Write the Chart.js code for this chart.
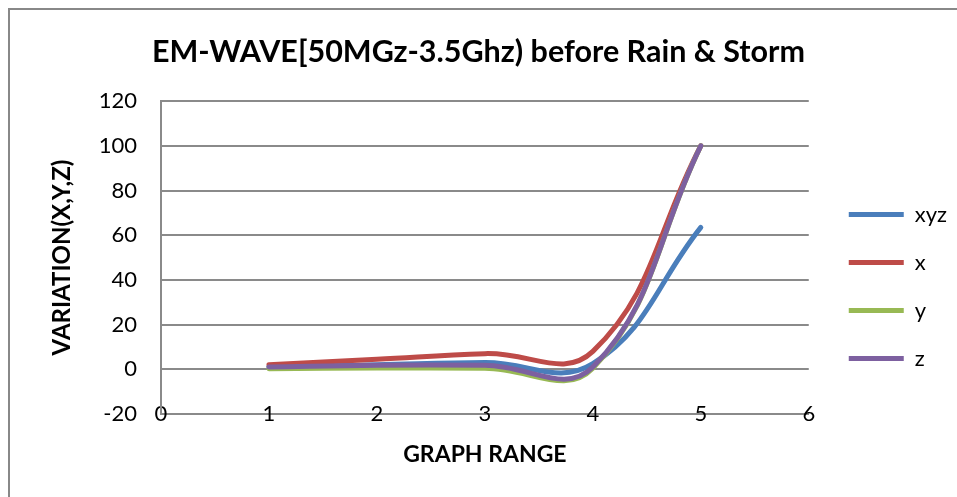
<!DOCTYPE html>
<html>
<head>
<meta charset="utf-8">
<title>EM-WAVE before Rain &amp; Storm</title>
<script src="https://cdn.jsdelivr.net/npm/chart.js@4.4.0/dist/chart.umd.min.js"></script>
<style>
  html, body { margin: 0; padding: 0; background: #fff; overflow: hidden; }
  #wrap { position: relative; width: 957px; height: 497px; }
  #frame { position: absolute; left: 8px; top: 8px; width: 980px; height: 520px; border: 2px solid #888; pointer-events: none; }
</style>
</head>
<body>
<div id="wrap">
  <canvas id="emChart" width="957" height="497"></canvas>
  <div id="frame"></div>
</div>
<script>
// graph range positions and the readings for each series
const rangeValues = [1, 2, 3, 4, 5];
const xyzValues = [1, 2, 3, 2.5, 63.5];
const xValues = [2, 4.5, 7, 8, 100];
const yValues = [0.3, 0.6, 0.5, 0.5, 100];
const zValues = [1, 1.8, 1.8, 1, 100];

const seriesNames = ["xyz", "x", "y", "z"];
const seriesColors = ["#4a7ebb", "#be4b48", "#98b954", "#7d60a0"];
const seriesData = [xyzValues, xValues, yValues, zValues];

const xTicks = { min: 0, max: 6, step: 1 };
const yTicks = { min: -20, max: 120, step: 20 };

const gridGray = "#8a8a8a";
Chart.defaults.font.family = "Lato, 'DejaVu Sans', sans-serif";
Chart.defaults.color = "#000";

const datasets = seriesNames.map((name, i) => ({
  label: name,
  data: rangeValues.map((r, j) => ({ x: r, y: seriesData[i][j] })),
  showLine: true,
  borderColor: seriesColors[i],
  backgroundColor: seriesColors[i],
  borderWidth: 5,
  borderCapStyle: "round",
  borderJoinStyle: "round",
  pointRadius: 0,
  tension: 0.42,
  // later series are painted over earlier ones
  order: seriesNames.length - 1 - i,
}));

new Chart(document.getElementById("emChart"), {
  type: "scatter",
  data: { datasets },
  options: {
    responsive: false,
    animation: false,
    layout: { padding: { left: 0, right: 0, top: 0, bottom: 0 } },
    plugins: {
      title: {
        display: true,
        text: "EM-WAVE[50MGz-3.5Ghz) before Rain & Storm",
        font: { size: 30.5, weight: "bold" },
        color: "#000",
        padding: { top: 34, bottom: 30.5 },
      },
      legend: {
        position: "right",
        align: "center",
        reverse: true,
        // blank title only pushes the items down
        title: { display: true, text: " ", font: { size: 10 }, padding: { top: 64, bottom: 0 } },
        labels: {
          usePointStyle: true,
          pointStyle: "line",
          pointStyleWidth: 55,
          padding: 26,
          font: { size: 22 },
          color: "#000",
        },
      },
      tooltip: { enabled: false },
    },
    scales: {
      x: {
        type: "linear",
        min: xTicks.min,
        max: xTicks.max,
        ticks: { stepSize: xTicks.step, mirror: true, padding: -13, font: { size: 22 } },
        grid: { display: false, drawTicks: false },
        border: { color: gridGray, width: 2 },
        title: {
          display: true,
          text: "GRAPH RANGE",
          font: { size: 23, weight: "bold" },
          padding: { top: 0, bottom: 29 },
        },
        afterFit: (scale) => { scale.height = 83; },
      },
      y: {
        type: "linear",
        min: yTicks.min,
        max: yTicks.max,
        ticks: { stepSize: yTicks.step, padding: 24, font: { size: 22 } },
        grid: { color: gridGray, lineWidth: 2, drawTicks: false },
        border: { color: gridGray, width: 2 },
        title: {
          display: true,
          text: "VARIATION(X,Y,Z)",
          font: { size: 24, weight: "bold" },
          padding: { top: 48, bottom: 0 },
        },
        afterFit: (scale) => { scale.width = 161; },
      },
      // empty strip between the plot and the legend
      gap: {
        type: "linear",
        position: "right",
        ticks: { display: false },
        grid: { display: false },
        border: { display: false },
        afterFit: (scale) => { scale.width = 14; },
      },
    },
  },
});
</script>
</body>
</html>
